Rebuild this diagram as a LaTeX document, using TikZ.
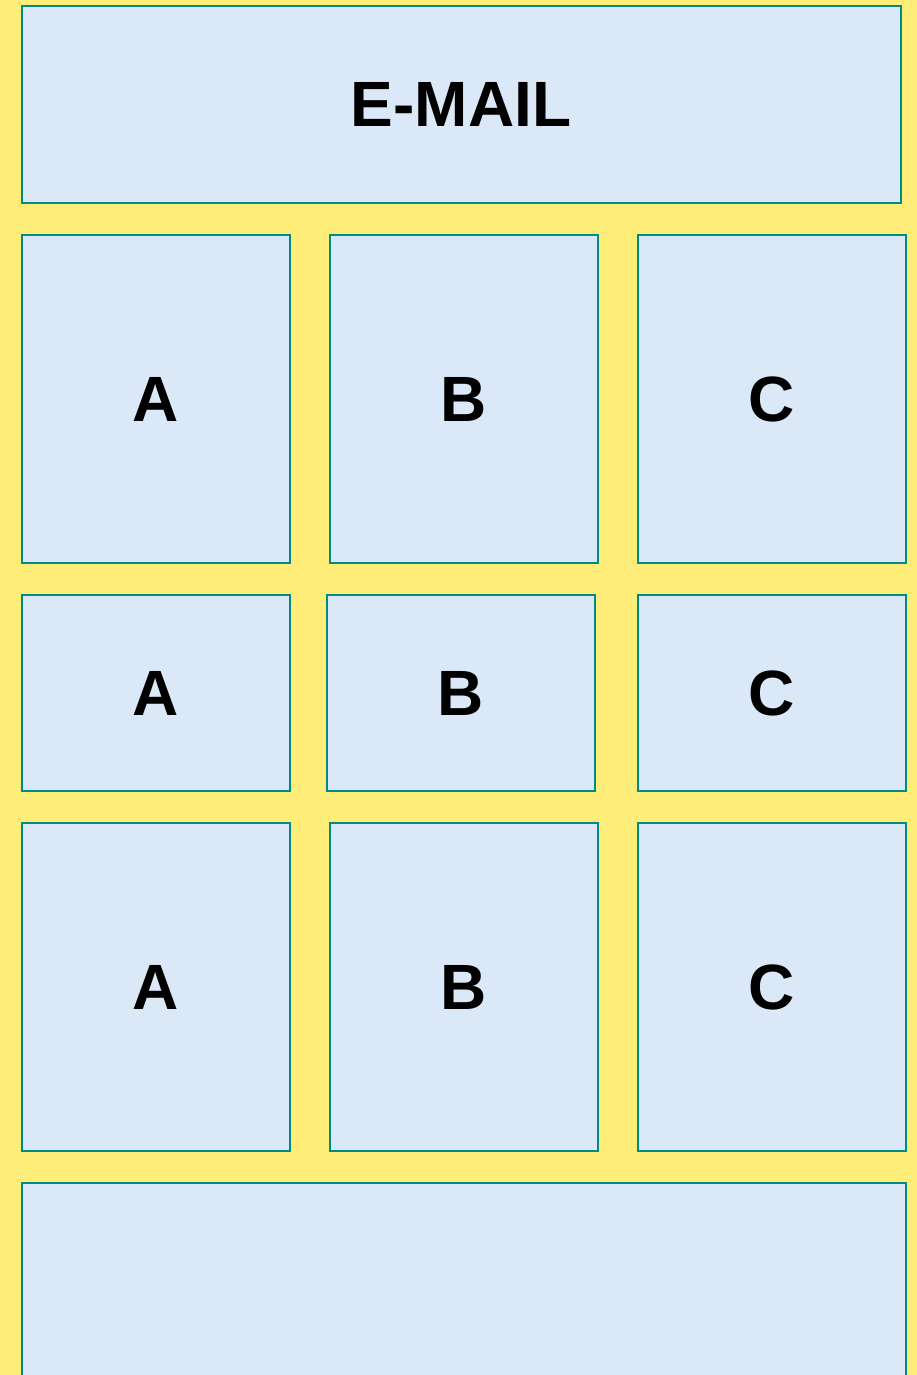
\documentclass[tikz,border=0pt]{standalone}
\usepackage{fontspec}
\setmainfont{Liberation Sans}
\usetikzlibrary{positioning}
\definecolor{bgyellow}{RGB}{255,237,122}
\definecolor{cellblue}{RGB}{218,232,247}
\definecolor{cellteal}{RGB}{0,140,132}

\begin{document}
\begin{tikzpicture}[
        x=1pt, y=-1pt,
        cell/.style={rectangle, draw=cellteal, fill=cellblue, line width=2pt, inner sep=0pt, minimum width=268pt, font=\fontsize{64}{64}\selectfont\bfseries},
        tall/.style={cell, minimum height=328pt},
        short/.style={cell, minimum height=196pt}
        ]
        \fill[bgyellow] (0,0) rectangle (917,1375);
        \clip (0,0) rectangle (917,1375);
        \node[short, minimum width=879pt] (email) at (461,104.5) {E-MAIL};
        \node[tall] (a1) at (155.75,399) {A};
        \node[tall] (b1) at (464,399) {B};
        \node[tall] (c1) at (772,399) {C};
        \node[short] (a2) at (155.75,693) {A};
        \node[short] (b2) at (461,693) {B};
        \node[short] (c2) at (772,693) {C};
        \node[tall] (a3) at (155.75,987) {A};
        \node[tall] (b3) at (464,987) {B};
        \node[tall] (c3) at (772,987) {C};
        \node[cell, minimum width=884.5pt, minimum height=400pt] (footer) at (463.75,1383) {};
    \end{tikzpicture}
\end{document}
